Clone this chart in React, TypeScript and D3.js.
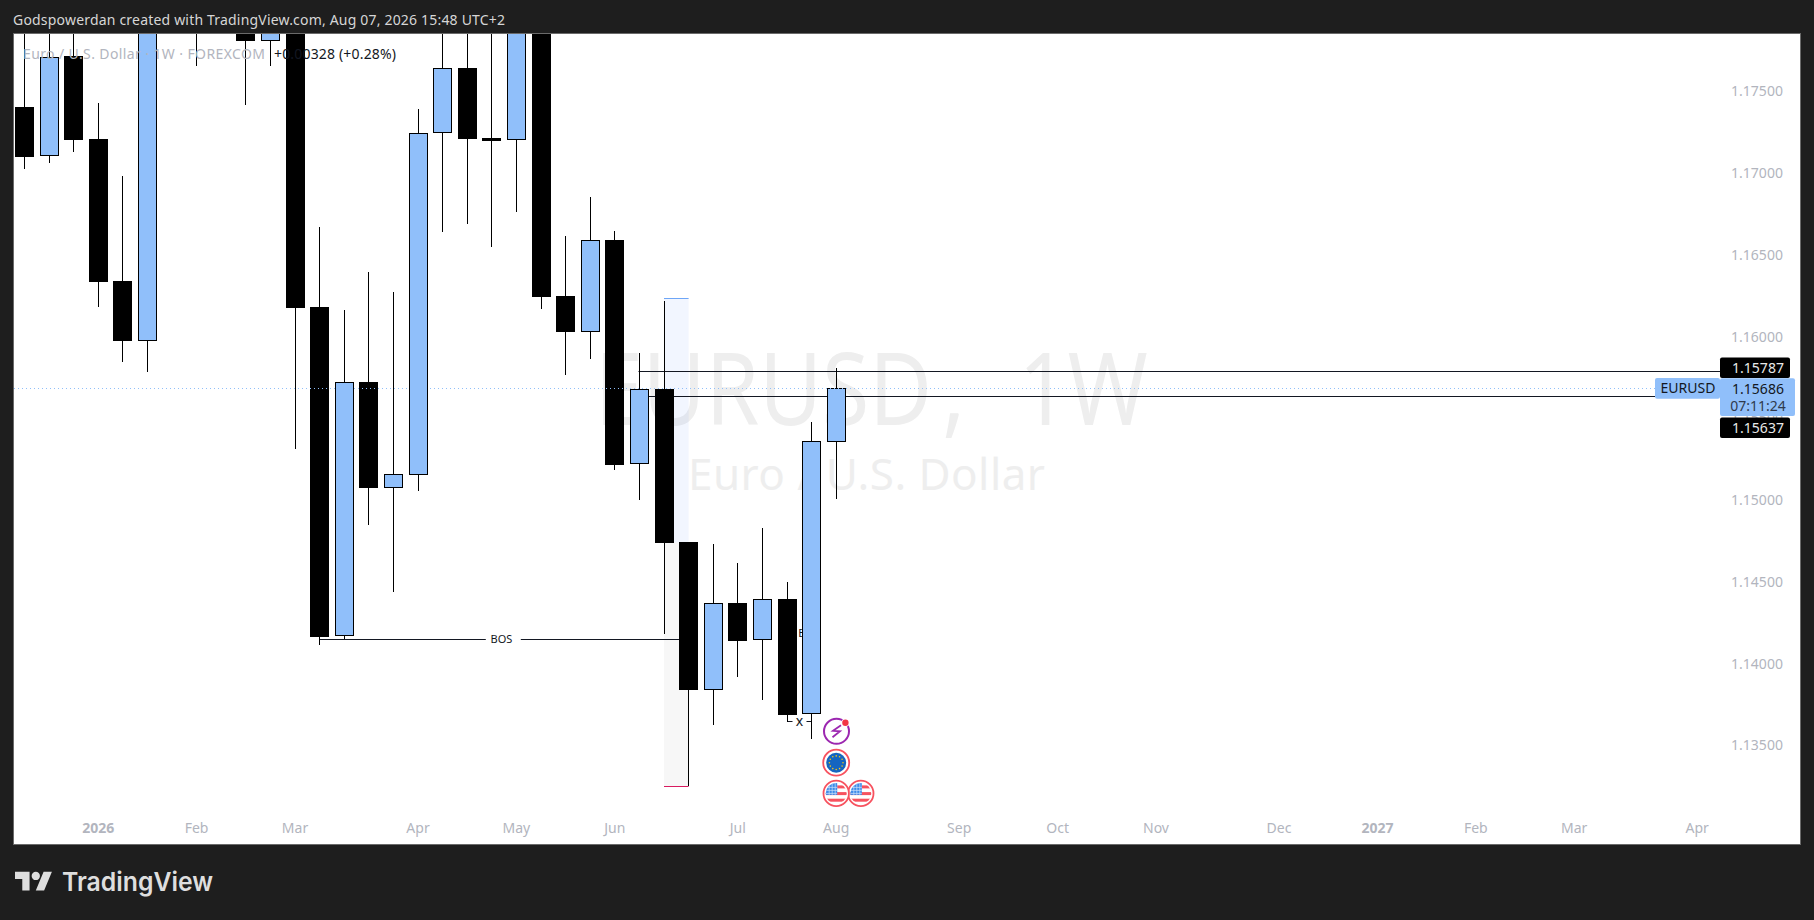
import React, { useEffect, useRef } from "react";
import * as d3 from "d3";

const WIDTH = 1814;
const HEIGHT = 920;
const FONT = "'Noto Sans', sans-serif";
const UP = "#90bffa";
const AXIS_TEXT = "#b2b5be";
const DARK = "#1e1e1e";

// weekly candles, first bar is the week of 2025-12-15
const firstWeek = new Date(Date.UTC(2025, 11, 15));
const opens = [1.17405, 1.17104, 1.17717, 1.17208, 1.16341, 1.15976, 1.1825, 1.181, 1.1795, 1.18, 1.17811, 1.1815, 1.16182, 1.14168, 1.15723, 1.15077, 1.15156, 1.17244, 1.17644, 1.17214, 1.17202, 1.1812, 1.16249, 1.16031, 1.16592, 1.1522, 1.15681, 1.14745, 1.13841, 1.14372, 1.14144, 1.14396, 1.13691, 1.15358];
const closes = [1.17101, 1.17713, 1.17205, 1.16337, 1.15976, 1.18, 1.1802, 1.1795, 1.181, 1.17811, 1.1795, 1.16178, 1.14166, 1.15722, 1.15077, 1.15159, 1.17244, 1.17642, 1.17211, 1.17199, 1.1805, 1.16245, 1.16031, 1.16592, 1.15218, 1.15679, 1.14741, 1.1384, 1.1437, 1.14141, 1.14394, 1.13689, 1.15361, 1.15686];
const highs = [1.1795, 1.1795, 1.179, 1.17428, 1.16983, 1.181, 1.184, 1.182, 1.1825, 1.1815, 1.1805, 1.1825, 1.16671, 1.16164, 1.16396, 1.16274, 1.17393, 1.1795, 1.179, 1.18, 1.1815, 1.1825, 1.16616, 1.16855, 1.16644, 1.15901, 1.16219, 1.14745, 1.14733, 1.14616, 1.1483, 1.145, 1.15477, 1.15807];
const lows = [1.17028, 1.17065, 1.17132, 1.16184, 1.15848, 1.15786, 1.1795, 1.17658, 1.1792, 1.17419, 1.17658, 1.15312, 1.14117, 1.14152, 1.14851, 1.14441, 1.15059, 1.16643, 1.16691, 1.16551, 1.16765, 1.16172, 1.15768, 1.15866, 1.15185, 1.15004, 1.14182, 1.13251, 1.13626, 1.13921, 1.1378, 1.13646, 1.1354, 1.1501];

const priceTicks = [1.135, 1.14, 1.145, 1.15, 1.155, 1.16, 1.165, 1.17, 1.175];
const timeTickDates = ["2026-01-05", "2026-02-02", "2026-03-02", "2026-04-06", "2026-05-04", "2026-06-01", "2026-07-06", "2026-08-03", "2026-09-07", "2026-10-05", "2026-11-02", "2026-12-07", "2027-01-04", "2027-02-01", "2027-03-01", "2027-04-05"];
const timeTickLabels = ["2026", "Feb", "Mar", "Apr", "May", "Jun", "Jul", "Aug", "Sep", "Oct", "Nov", "Dec", "2027", "Feb", "Mar", "Apr"];

const lastPrice = 1.15686;
const lineHigh = 1.15787;
const lineLow = 1.15637;
const bosPrice = 1.1415;
const sweepPrice = 1.13648;
const positionTop = 1.16235;
const positionEntry = 1.14742;
const positionBottom = 1.13251;

const weekOf = (i: number) => d3.utcDay.offset(firstWeek, i * 7);

const App = () => {
  const svgRef = useRef<SVGSVGElement | null>(null);

  useEffect(() => {
    const svg = d3.select(svgRef.current);
    svg.selectAll("*").remove();

    const plot = { left: 14, right: 1800, top: 34, bottom: 844 };

    const x = d3.scaleUtc().domain([firstWeek, weekOf(33)]).range([24.4, 836.2]);
    const y = d3.scaleLinear().domain([1.135, 1.175]).range([745.5, 91.5]);
    const px = (i: number) => Math.floor(x(weekOf(i))) + 0.5;
    const py = (p: number) => Math.floor(y(p)) + 0.5;

    svg.append("rect").attr("width", WIDTH).attr("height", HEIGHT).attr("fill", DARK);
    svg.append("rect")
      .attr("x", plot.left - 0.5).attr("y", plot.top - 0.5)
      .attr("width", plot.right - plot.left + 1).attr("height", plot.bottom - plot.top + 1)
      .attr("fill", "#fff").attr("stroke", "#6a6a6a");

    svg.append("clipPath").attr("id", "plot-clip").append("rect")
      .attr("x", plot.left).attr("y", plot.top)
      .attr("width", plot.right - plot.left).attr("height", plot.bottom - plot.top);

    const g = svg.append("g").attr("clip-path", "url(#plot-clip)");

    // watermark
    const mark = g.append("text").attr("transform", "translate(595,425) scale(0.86,1)")
      .style("font", `100px ${FONT}`).style("word-spacing", "36px")
      .attr("fill", "#eeeeee");
    mark.append("tspan").text("EURUSD");
    mark.append("tspan").attr("dx", 12).text(", 1W");
    g.append("text").attr("x", 688).attr("y", 490)
      .attr("textLength", 357).attr("lengthAdjust", "spacing")
      .style("font", `44px ${FONT}`).attr("fill", "#eeeeee").text("Euro / U.S. Dollar");

    // long/short position box
    const posLeft = x(weekOf(26));
    const posRight = x(weekOf(27));
    g.append("rect").attr("x", posLeft).attr("y", y(positionTop))
      .attr("width", posRight - posLeft).attr("height", y(positionEntry) - y(positionTop))
      .attr("fill", "rgba(41,98,255,0.06)");
    g.append("rect").attr("x", posLeft).attr("y", y(positionEntry))
      .attr("width", posRight - posLeft).attr("height", y(positionBottom) - y(positionEntry))
      .attr("fill", "rgba(0,0,0,0.03)");
    g.append("line").attr("x1", posLeft).attr("x2", posRight)
      .attr("y1", py(positionTop)).attr("y2", py(positionTop))
      .attr("stroke", "#6ea6f7");
    g.append("line").attr("x1", posLeft).attr("x2", posRight)
      .attr("y1", py(positionBottom)).attr("y2", py(positionBottom))
      .attr("stroke", "#d81b60");

    // horizontal lines
    const hline = (p: number, a: number, b: number) =>
      g.append("line").attr("x1", a).attr("x2", b)
        .attr("y1", py(p)).attr("y2", py(p))
        .attr("stroke", "#131722").attr("stroke-width", 1);
    hline(lineHigh, px(25) - 1, 1720);
    hline(lineLow, px(25), 1655);
    hline(bosPrice, px(12), x(weekOf(19)) - 6);
    hline(bosPrice, x(weekOf(19)) + 29, x(weekOf(27)));

    g.append("text").attr("x", 501.5).attr("y", y(bosPrice))
      .attr("dy", "0.35em").attr("text-anchor", "middle")
      .style("font", `11px ${FONT}`).attr("fill", "#131722").text("BOS");
    g.append("text").attr("x", 798.3).attr("y", y(bosPrice) - 6)
      .attr("dy", "0.35em")
      .style("font", `11px ${FONT}`).attr("fill", "#131722").text("BOS");

    hline(sweepPrice, px(31), px(31) + 5);
    hline(sweepPrice, px(32) - 5, px(32));
    g.append("text").attr("x", (px(31) + px(32)) / 2).attr("y", y(sweepPrice))
      .attr("dy", "0.35em").attr("text-anchor", "middle")
      .style("font", `14px ${FONT}`).attr("fill", "#131722").text("x");

    // candles
    const bars = g.append("g").attr("shape-rendering", "crispEdges");
    opens.forEach((o, i) => {
      const c = closes[i];
      const up = c >= o;
      const cx = px(i);
      bars.append("line").attr("x1", cx).attr("x2", cx)
        .attr("y1", y(highs[i])).attr("y2", y(lows[i]))
        .attr("stroke", "#000");
      const top = Math.round(y(Math.max(o, c)));
      const bottom = Math.round(y(Math.min(o, c)));
      bars.append("rect")
        .attr("x", cx - 9)
        .attr("y", top + 0.5)
        .attr("width", 18)
        .attr("height", Math.max(1, bottom - top - 1))
        .attr("fill", up ? UP : "#000")
        .attr("stroke", "#000");
    });

    // last price line
    g.append("line").attr("x1", plot.left).attr("x2", 1655)
      .attr("y1", py(lastPrice)).attr("y2", py(lastPrice))
      .attr("stroke", UP).attr("stroke-dasharray", "1 3");

    // event icons under the last bars
    const iconX = x(weekOf(33));
    const iconX2 = x(weekOf(34));
    const flash = g.append("g").attr("transform", `translate(${iconX + 0.3},731.3)`);
    flash.append("circle").attr("r", 12.5).attr("fill", "#fff").attr("stroke", "#9c27b0").attr("stroke-width", 2);
    flash.append("path").attr("d", "M4.5,-6 L-3.5,-0.5 L3.5,0 L-4,6").attr("fill", "none")
      .attr("stroke", "#9c27b0").attr("stroke-width", 1.8);
    flash.append("circle").attr("cx", 8.9).attr("cy", -8.6).attr("r", 4).attr("fill", "#fff");
    flash.append("circle").attr("cx", 8.9).attr("cy", -8.6).attr("r", 3.2).attr("fill", "#f23645");

    const eu = g.append("g").attr("transform", `translate(${iconX},762.7)`);
    eu.append("circle").attr("r", 13).attr("fill", "#fff").attr("stroke", "#f7525f").attr("stroke-width", 1.8);
    eu.append("circle").attr("r", 10).attr("fill", "#1565c0");
    d3.range(12).forEach((k) => {
      const a = (k / 12) * Math.PI * 2;
      eu.append("circle").attr("cx", Math.cos(a) * 6.8).attr("cy", Math.sin(a) * 6.8)
        .attr("r", 0.8).attr("fill", "#f5c518");
    });

    [iconX2, iconX].forEach((cx, n) => {
      const id = `us-clip-${n}`;
      const us = g.append("g").attr("transform", `translate(${cx},793.4)`);
      us.append("clipPath").attr("id", id).append("circle").attr("r", 10.5);
      us.append("circle").attr("r", 12.7).attr("fill", "#fff").attr("stroke", "#f7525f").attr("stroke-width", 1.8);
      const inner = us.append("g").attr("clip-path", `url(#${id})`);
      inner.append("rect").attr("x", 1).attr("y", -8).attr("width", 10).attr("height", 3).attr("fill", "#f7525f");
      inner.append("rect").attr("x", -11).attr("y", -1.3).attr("width", 22).attr("height", 3).attr("fill", "#f7525f");
      inner.append("rect").attr("x", -11).attr("y", 5.3).attr("width", 22).attr("height", 3).attr("fill", "#f7525f");
      inner.append("rect").attr("x", -11).attr("y", -11).attr("width", 12).attr("height", 12.5).attr("fill", "#3d8bea");
      d3.range(3).forEach((k) => {
        inner.append("line").attr("x1", -7 + k * 3).attr("x2", -7 + k * 3).attr("y1", -11).attr("y2", 1.5)
          .attr("stroke", "#cfe2fb").attr("stroke-width", 0.7);
        inner.append("line").attr("x1", -11).attr("x2", 1).attr("y1", -6 + k * 3).attr("y2", -6 + k * 3)
          .attr("stroke", "#cfe2fb").attr("stroke-width", 0.7);
      });
    });

    // legend
    svg.append("text").attr("x", 23).attr("y", 54).attr("dy", "0.35em")
      .attr("textLength", 242).attr("lengthAdjust", "spacing")
      .style("font", `14px ${FONT}`).attr("fill", AXIS_TEXT).text("Euro / U.S. Dollar · 1W · FOREXCOM");
    svg.append("text").attr("x", 274).attr("y", 54).attr("dy", "0.35em")
      .attr("textLength", 122).attr("lengthAdjust", "spacing")
      .style("font", `14px ${FONT}`).attr("fill", "#131722").text("+0.00328 (+0.28%)");

    // header
    svg.append("text").attr("x", 13).attr("y", 20).attr("dy", "0.35em")
      .attr("textLength", 492).attr("lengthAdjust", "spacing")
      .style("font", `14px ${FONT}`).attr("fill", "#d6d6d6")
      .text("Godspowerdan created with TradingView.com, Aug 07, 2026 15:48 UTC+2");

    // price axis
    svg.append("g").selectAll("text").data(priceTicks).enter().append("text")
      .attr("x", 1757).attr("y", (d) => y(d)).attr("dy", "0.35em")
      .attr("text-anchor", "middle")
      .style("font", `14px ${FONT}`).attr("fill", AXIS_TEXT)
      .text((d) => d3.format(".5f")(d));

    // time axis
    const tickDates = timeTickDates.map((d) => new Date(d + "T00:00:00Z"));
    svg.append("g").selectAll("text").data(tickDates).enter().append("text")
      .attr("x", (d) => x(d)).attr("y", 828).attr("dy", "0.35em")
      .attr("text-anchor", "middle")
      .style("font", `14px ${FONT}`)
      .style("font-weight", (_, i) => (timeTickLabels[i].length === 4 ? 700 : 400))
      .attr("fill", AXIS_TEXT)
      .text((_, i) => timeTickLabels[i]);

    // price labels
    const label = (tx: number, ty: number, text: string, fill: string) =>
      svg.append("text").attr("x", tx).attr("y", ty).attr("dy", "0.35em").attr("text-anchor", "middle")
        .style("font", `14px ${FONT}`).attr("fill", fill).text(text);
    const box = (bx: number, by: number, w: number, h: number, fill: string) =>
      svg.append("rect").attr("x", bx).attr("y", by).attr("width", w).attr("height", h)
        .attr("rx", 2).attr("fill", fill);

    box(1720, 357.5, 70, 20.5, "#000");
    label(1758, 367.7, d3.format(".5f")(lineHigh), "#e8e8e8");
    box(1720, 378.3, 75, 37.7, UP);
    label(1758, 389, d3.format(".5f")(lastPrice), "#131722");
    label(1758, 405.7, "07:11:24", "#2f3a4d");
    box(1655, 378, 65, 20.7, UP);
    label(1688, 388.5, "EURUSD", "#131722");
    box(1720, 417.5, 70, 20.5, "#000");
    label(1758, 427.7, d3.format(".5f")(lineLow), "#e8e8e8");

    // logo
    const logo = svg.append("g").attr("transform", "translate(15,864.5) scale(1.04)").attr("fill", "#dedede");
    logo.append("path").attr("d", "M14 25H7V14H0V7h14v18ZM28 25h-8l7.5-18h8L28 25Z");
    logo.append("circle").attr("cx", 20).attr("cy", 11).attr("r", 4);
    svg.append("text").attr("x", 62).attr("y", 891)
      .attr("textLength", 151).attr("lengthAdjust", "spacingAndGlyphs")
      .style("font", `600 26px Inter, ${FONT}`).attr("fill", "#dedede").text("TradingView");
  }, []);

  return (
    <svg
      ref={svgRef}
      width={WIDTH}
      height={HEIGHT}
      style={{ position: "absolute", left: 0, top: 0, display: "block" }}
    />
  );
};

export default App;
